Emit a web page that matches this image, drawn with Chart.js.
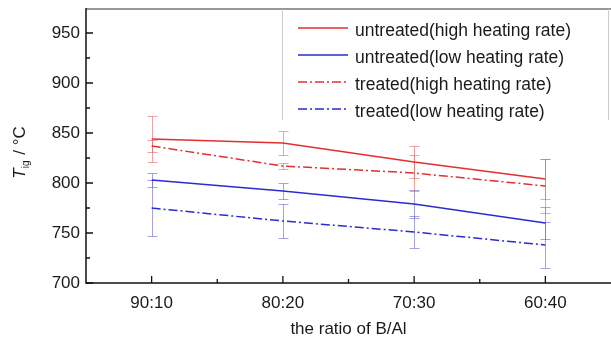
<!DOCTYPE html>
<html><head><meta charset="utf-8">
<script src="https://cdn.jsdelivr.net/npm/chart.js@4.4.1/dist/chart.umd.min.js"></script>
<style>html,body{margin:0;padding:0;background:#fff;} #wrap{width:611px;height:344px;}</style>
</head><body><div id="wrap"><canvas id="c" width="611" height="344"></canvas></div>
<script>
const categories = ['90:10', '80:20', '70:30', '60:40'];
const untreatedHigh = [844, 840, 821, 804];
const untreatedLow = [803, 792, 779, 760];
const treatedHigh = [837, 817, 810, 797];
const treatedLow = [775, 762, 751, 738];
const untreatedHighErr = [23, 12, 16, 20];
const untreatedLowErr = [7, 8, 14, 16];
const treatedHighErr = [6, 3, 18, 27];
const treatedLowErr = [28, 17, 16, 23];
const yMajorTicks = [700, 750, 800, 850, 900, 950];
const yMinorTicks = [725, 775, 825, 875, 925];
const seriesNames = ['untreated(high heating rate)', 'untreated(low heating rate)', 'treated(high heating rate)', 'treated(low heating rate)'];
const xTitle = 'the ratio of B/Al';

const FONT = '"Liberation Sans", Arial, sans-serif';
const RED = '#e42f2f';
const BLUE = '#2b2bd2';
const RED_ERR = 'rgba(225,90,90,0.55)';
const BLUE_ERR = 'rgba(90,90,205,0.55)';
const DASHDOT = [9, 3, 2, 3];

const errors = [untreatedHighErr, untreatedLowErr, treatedHighErr, treatedLowErr];
const errColors = [RED_ERR, BLUE_ERR, RED_ERR, BLUE_ERR];

function zeroPad(s) { s.paddingTop = 0; s.paddingBottom = 0; s.paddingLeft = 0; s.paddingRight = 0; }

const custom = {
  id: 'custom',
  beforeDatasetsDraw(chart) {
    const ctx = chart.ctx, xs = chart.scales.x, ys = chart.scales.y;
    ctx.save();
    ctx.lineWidth = 1;
    chart.data.datasets.forEach((ds, i) => {
      ctx.strokeStyle = errColors[i];
      ds.data.forEach((v, j) => {
        const e = errors[i][j];
        const x = Math.round(xs.getPixelForValue(j)) + 0.5;
        const yt = Math.round(ys.getPixelForValue(v + e)) + 0.5;
        const yb = Math.round(ys.getPixelForValue(v - e)) + 0.5;
        ctx.beginPath();
        ctx.moveTo(x, yt); ctx.lineTo(x, yb);
        ctx.moveTo(x - 5, yt); ctx.lineTo(x + 5, yt);
        ctx.moveTo(x - 5, yb); ctx.lineTo(x + 5, yb);
        ctx.stroke();
      });
    });
    ctx.restore();
  },
  afterDraw(chart) {
    const ctx = chart.ctx, xs = chart.scales.x, ys = chart.scales.y;
    const a = chart.chartArea;
    ctx.save();
    // frame
    ctx.strokeStyle = '#111';
    ctx.lineWidth = 1.5;
    ctx.beginPath();
    ctx.moveTo(a.left, a.top); ctx.lineTo(a.left, a.bottom); ctx.lineTo(a.right, a.bottom);
    ctx.stroke();
    ctx.lineWidth = 1.2;
    ctx.strokeStyle = '#333';
    ctx.beginPath();
    ctx.moveTo(a.left, a.top + 1); ctx.lineTo(a.right, a.top + 1);
    ctx.stroke();
    // ticks
    ctx.strokeStyle = '#111';
    ctx.lineWidth = 1.3;
    ctx.beginPath();
    yMajorTicks.forEach(v => { const y = ys.getPixelForValue(v); ctx.moveTo(a.left, y); ctx.lineTo(a.left + 7, y); });
    yMinorTicks.forEach(v => { const y = ys.getPixelForValue(v); ctx.moveTo(a.left, y); ctx.lineTo(a.left + 4, y); });
    categories.forEach((c, j) => { const x = xs.getPixelForValue(j); ctx.moveTo(x, a.bottom); ctx.lineTo(x, a.bottom - 7); });
    for (let j = 0; j < categories.length - 1; j++) { const x = xs.getPixelForValue(j + 0.5); ctx.moveTo(x, a.bottom); ctx.lineTo(x, a.bottom - 4); }
    ctx.stroke();
    // legend frame
    ctx.strokeStyle = '#cccccc';
    ctx.lineWidth = 1;
    ctx.beginPath();
    ctx.moveTo(282.5, a.top + 1); ctx.lineTo(282.5, 120);
    ctx.moveTo(608.5, a.top + 1); ctx.lineTo(608.5, 120);
    ctx.stroke();
    // legend
    chart.data.datasets.forEach((ds, i) => {
      const y = 28 + i * 27;
      ctx.strokeStyle = ds.borderColor;
      ctx.lineWidth = ds.borderWidth;
      ctx.setLineDash(ds.borderDash || []);
      ctx.beginPath();
      ctx.moveTo(298, y); ctx.lineTo(348, y);
      ctx.stroke();
      ctx.setLineDash([]);
      ctx.fillStyle = '#1a1a1a';
      ctx.font = '17.5px ' + FONT;
      ctx.textBaseline = 'middle';
      ctx.textAlign = 'left';
      ctx.fillText(ds.label, 355, y + 3);
    });
    // y title
    ctx.translate(19, (a.top + a.bottom) / 2 + 7);
    ctx.rotate(-Math.PI / 2);
    ctx.fillStyle = '#1a1a1a';
    ctx.textBaseline = 'alphabetic';
    ctx.textAlign = 'left';
    const fMain = '17px ' + FONT, fIt = 'italic 17px ' + FONT, fSub = '10px ' + FONT;
    ctx.font = fIt; const wT = ctx.measureText('T').width;
    ctx.font = fSub; const wS = ctx.measureText('ig').width;
    ctx.font = fMain; const wR = ctx.measureText(' / °C').width;
    const total = wT + wS + wR + 1;
    let x0 = -total / 2;
    ctx.font = fIt; ctx.fillText('T', x0, 6); x0 += wT;
    ctx.font = fSub; ctx.fillText('ig', x0, 10); x0 += wS + 1;
    ctx.font = fMain; ctx.fillText(' / °C', x0, 6);
    ctx.restore();
  }
};

new Chart(document.getElementById('c'), {
  type: 'line',
  data: {
    labels: categories,
    datasets: [
      { label: seriesNames[0], data: untreatedHigh, borderColor: RED, borderWidth: 1.5, pointRadius: 0, fill: false },
      { label: seriesNames[1], data: untreatedLow, borderColor: BLUE, borderWidth: 1.5, pointRadius: 0, fill: false },
      { label: seriesNames[2], data: treatedHigh, borderColor: RED, borderWidth: 1.5, borderDash: DASHDOT, pointRadius: 0, fill: false },
      { label: seriesNames[3], data: treatedLow, borderColor: BLUE, borderWidth: 1.5, borderDash: DASHDOT, pointRadius: 0, fill: false }
    ]
  },
  options: {
    responsive: false,
    animation: false,
    devicePixelRatio: 1,
    layout: { padding: { top: 8, left: 0, right: 0, bottom: 0 } },
    plugins: { legend: { display: false }, tooltip: { enabled: false } },
    scales: {
      x: {
        type: 'category', offset: true,
        grid: { display: false, drawTicks: false },
        border: { display: false },
        ticks: { font: { family: FONT, size: 17 }, color: '#1a1a1a', padding: 10, maxRotation: 0, autoSkip: false },
        title: { display: true, text: xTitle, font: { family: FONT, size: 17 }, color: '#1a1a1a', padding: { top: 3, bottom: 4 } },
        afterFit(s) { s.height = 61; zeroPad(s); }
      },
      y: {
        min: 700, max: 975,
        grid: { display: false, drawTicks: false },
        border: { display: false },
        ticks: { stepSize: 50, font: { family: FONT, size: 17 }, color: '#1a1a1a', padding: 6 },
        afterBuildTicks(s) { s.ticks = s.ticks.filter(t => yMajorTicks.includes(t.value)); },
        afterFit(s) { s.width = 86; zeroPad(s); }
      }
    }
  },
  plugins: [custom]
});
</script>
</body></html>
